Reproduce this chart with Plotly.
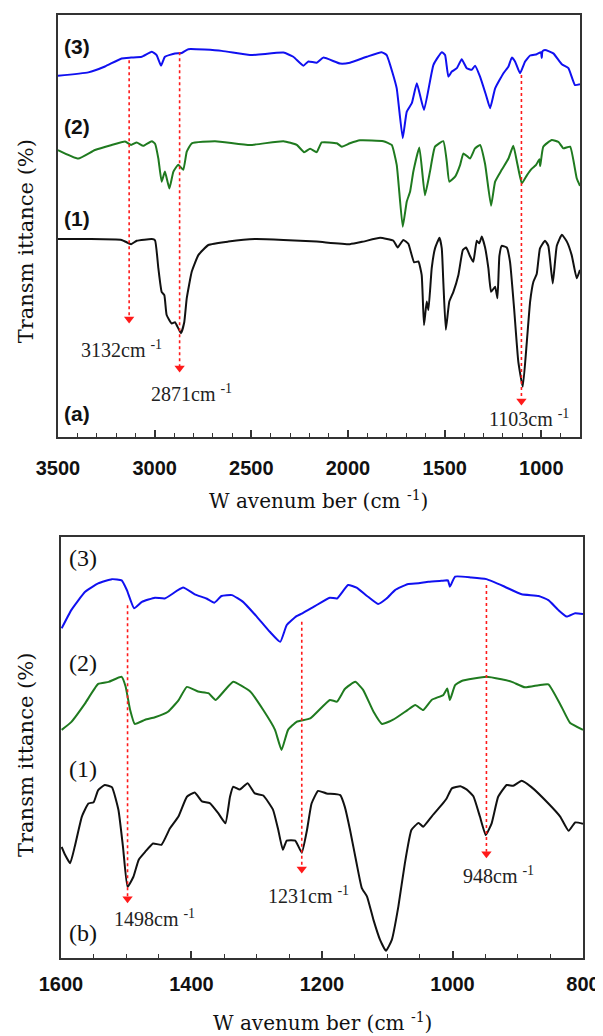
import plotly.graph_objects as go

# ---------------- Panel (a): full-range FTIR spectra ----------------
a3_wn = [3500, 3343, 3257, 3171, 3122, 3067, 3015, 2990, 2967, 2947, 2895, 2860, 2826, 2653, 2507,
         2334, 2283, 2231, 2205, 2162, 2128, 2041, 1990, 1903, 1826, 1800, 1769, 1748, 1717, 1696,
         1670, 1644, 1607, 1558, 1515, 1498, 1481, 1463, 1437, 1412, 1386, 1360, 1343, 1317, 1286,
         1265, 1239, 1196, 1170, 1153, 1136, 1110, 1084, 1058, 1024, 1002, 998, 994, 981, 938,
         894, 860, 826, 800]
a3_t = [85.6, 86.4, 87.8, 89.7, 89.9, 90.1, 91.3, 90.5, 88.0, 90.1, 90.9, 91.0, 91.9, 91.5, 90.5,
        91.1, 90.1, 88.0, 89.0, 88.7, 89.9, 88.5, 88.7, 90.1, 91.2, 90.5, 86.2, 82.6, 70.8, 77.1,
        79.1, 83.8, 77.5, 88.2, 91.2, 90.5, 85.4, 86.6, 87.4, 89.5, 87.4, 87.0, 88.0, 85.4, 81.0,
        77.9, 82.6, 86.2, 87.8, 89.9, 89.0, 86.2, 89.0, 90.4, 90.7, 91.2, 89.8, 91.4, 91.7, 90.9,
        88.3, 87.4, 83.4, 83.6]

a2_wn = [3500, 3395, 3309, 3222, 3153, 3122, 3093, 3059, 3015, 2998, 2981, 2964, 2947, 2924, 2903,
         2878, 2852, 2834, 2808, 2688, 2507, 2334, 2265, 2227, 2196, 2162, 2136, 2058, 2032, 1990,
         1938, 1817, 1774, 1748, 1717, 1696, 1679, 1662, 1631, 1602, 1576, 1550, 1507, 1489, 1476,
         1446, 1420, 1403, 1369, 1343, 1317, 1291, 1260, 1239, 1205, 1170, 1145, 1124, 1101, 1075,
         1049, 1027, 1010, 1006, 990, 946, 911, 886, 851, 817, 800]
a2_t = [68.0, 66.0, 68.0, 69.2, 70.0, 69.2, 69.8, 69.0, 70.1, 69.5, 66.0, 60.5, 62.9, 58.9, 62.9,
        64.5, 63.3, 67.6, 69.6, 70.1, 69.2, 70.1, 69.2, 67.5, 68.3, 67.5, 69.8, 69.6, 68.8, 69.6,
        70.3, 70.1, 69.2, 64.5, 49.8, 55.8, 58.1, 62.9, 68.6, 57.3, 62.9, 68.8, 70.1, 65.2, 60.5,
        61.7, 64.5, 67.2, 66.0, 68.4, 69.2, 64.7, 54.8, 60.5, 63.3, 66.0, 69.0, 64.7, 60.1, 62.0,
        63.6, 64.5, 65.8, 64.2, 68.8, 70.4, 69.9, 68.4, 68.8, 61.3, 59.5]

a1_wn = [3500, 3343, 3171, 3122, 3093, 3015, 2998, 2981, 2964, 2950, 2938, 2912, 2895, 2864, 2847,
         2834, 2808, 2774, 2722, 2619, 2481, 2334, 2162, 1990, 1921, 1834, 1765, 1743, 1714, 1688,
         1658, 1636, 1619, 1607, 1593, 1584, 1567, 1550, 1527, 1515, 1507, 1494, 1476, 1455, 1429,
         1406, 1389, 1369, 1352, 1334, 1321, 1308, 1291, 1274, 1260, 1239, 1227, 1217, 1205, 1179,
         1162, 1141, 1119, 1096, 1075, 1058, 1041, 1024, 1007, 981, 964, 941, 920, 894, 868, 843,
         817, 800]
a1_t = [46.9, 46.9, 46.7, 45.7, 46.5, 46.9, 46.6, 40.0, 34.4, 33.6, 28.9, 26.9, 27.2, 24.6, 27.2,
        32.9, 39.2, 43.1, 45.5, 46.3, 46.9, 46.7, 46.3, 45.7, 46.3, 47.2, 46.5, 44.9, 46.7, 45.8,
        41.4, 41.6, 38.4, 26.5, 32.1, 30.1, 40.0, 44.7, 47.2, 44.7, 36.8, 25.4, 32.1, 34.4, 38.4,
        44.3, 44.9, 42.9, 41.5, 46.5, 45.9, 47.5, 44.9, 40.0, 34.4, 35.6, 32.9, 42.9, 45.3, 44.9,
        41.5, 30.5, 17.8, 11.9, 22.6, 32.1, 36.8, 38.6, 44.7, 46.5, 45.3, 36.4, 45.3, 47.9, 46.3,
        43.1, 37.6, 39.6]

a_peaks = [3132, 2871, 1103]
a_peak_top = [89.3, 91.2, 85.8]
a_peak_tip = [27.0, 15.4, 7.6]
a_peak_labels = ["3132cm <sup>-1</sup>", "2871cm <sup>-1</sup>", "1103cm <sup>-1</sup>"]
a_label_pos = [(3174, 20.9), (2812, 10.4), (1064, 4.5)]

# ---------------- Panel (b): 1600-800 cm-1 region ----------------
b3_wn = [1599, 1584, 1563, 1543, 1522, 1507, 1499, 1488, 1476, 1456, 1441, 1413, 1395, 1377, 1365,
         1354, 1338, 1321, 1300, 1280, 1264, 1254, 1239, 1231, 1213, 1188, 1177, 1160, 1147, 1131,
         1114, 1101, 1088, 1069, 1052, 1037, 1017, 1007, 1004, 996, 971, 948, 920, 894, 868, 853,
         838, 825, 812, 800]
b3_t = [78.3, 82.7, 87.0, 89.0, 90.0, 89.7, 87.4, 83.1, 84.6, 85.6, 85.4, 88.0, 86.4, 85.4, 84.4,
        86.0, 86.2, 84.6, 81.1, 77.5, 75.1, 79.1, 81.2, 81.8, 83.4, 85.6, 85.4, 88.6, 88.0, 86.0,
        84.1, 85.4, 87.4, 88.8, 89.0, 89.4, 89.6, 89.7, 88.2, 90.6, 90.4, 90.0, 88.2, 86.4, 86.0, 85.0,
        82.7, 81.1, 81.9, 81.7]

b2_wn = [1599, 1584, 1563, 1543, 1527, 1507, 1501, 1494, 1487, 1471, 1456, 1436, 1420, 1407, 1390,
         1374, 1363, 1349, 1336, 1310, 1290, 1272, 1262, 1252, 1239, 1218, 1188, 1177, 1165, 1149,
         1137, 1121, 1108, 1091, 1069, 1057, 1045, 1032, 1014, 1008, 1004, 996, 986, 948, 925, 909,
         889, 868, 853, 833, 820, 800]
b2_t = [54.2, 56.1, 60.5, 65.1, 65.6, 66.8, 64.5, 58.9, 55.6, 56.6, 57.2, 58.5, 61.2, 64.4, 63.3,
        62.9, 61.3, 63.6, 65.6, 63.3, 58.9, 54.2, 49.4, 54.2, 56.1, 56.9, 61.3, 60.9, 63.9, 65.6,
        63.7, 58.5, 55.6, 56.6, 58.9, 60.1, 58.9, 61.3, 62.5, 64.0, 61.3, 64.8, 65.8, 66.8, 66.2, 65.6,
        64.3, 64.8, 65.0, 59.7, 55.9, 54.2]

b1_wn = [1599, 1594, 1586, 1579, 1568, 1558, 1550, 1543, 1533, 1522, 1512, 1505, 1498, 1489, 1481,
         1471, 1459, 1446, 1433, 1420, 1407, 1395, 1384, 1372, 1359, 1348, 1341, 1336, 1326, 1314,
         1303, 1290, 1275, 1267, 1260, 1254, 1241, 1231, 1223, 1216, 1206, 1193, 1172, 1165, 1157,
         1147, 1139, 1131, 1121, 1111, 1102, 1093, 1083, 1073, 1063, 1052, 1045, 1032, 1017, 1009,
         1001, 988, 978, 968, 958, 949, 940, 930, 917, 907, 894, 879, 853, 835, 822, 812, 800]
b1_t = [26.4, 24.6, 22.5, 26.4, 33.6, 36.7, 37.0, 39.9, 41.1, 40.6, 35.2, 26.4, 16.9, 19.3, 23.3,
        25.2, 27.2, 26.9, 30.8, 33.6, 38.3, 39.3, 37.2, 36.8, 34.4, 32.0, 38.3, 40.7, 40.0, 41.5,
        39.1, 38.6, 35.2, 30.4, 25.7, 27.9, 27.9, 25.0, 30.4, 36.7, 39.7, 39.1, 38.7, 35.9, 30.4,
        22.5, 16.6, 14.6, 9.0, 4.3, 1.7, 4.3, 12.2, 22.5, 30.4, 32.1, 31.2, 33.6, 36.3, 37.9,
        40.3, 40.8, 40.0, 38.4, 33.6, 29.2, 32.0, 38.3, 41.1, 40.9, 42.1, 40.6, 36.7, 33.6, 30.2,
        32.2, 31.9]

b_peaks = [1498, 1231, 948]
b_peak_top = [83.8, 79.9, 88.6]
b_peak_tip = [13.1, 20.2, 23.8]
b_peak_labels = ["1498cm <sup>-1</sup>", "1231cm <sup>-1</sup>", "948cm <sup>-1</sup>"]
b_label_pos = [(1457, 9.5), (1221, 15.0), (929, 19.7)]

BLUE = "#1010f0"
GREEN = "#1f7a1f"
BLACK = "#111111"
RED = "#ff1a1a"

fig = go.Figure()


def add_line(x, y, color, xa, ya):
    fig.add_trace(go.Scatter(x=x, y=y, mode="lines",
                             line=dict(color=color, width=2, shape="spline", smoothing=0.4),
                             xaxis=xa, yaxis=ya, showlegend=False, hoverinfo="skip"))


add_line(a3_wn, a3_t, BLUE, "x", "y")
add_line(a2_wn, a2_t, GREEN, "x", "y")
add_line(a1_wn, a1_t, BLACK, "x", "y")
add_line(b3_wn, b3_t, BLUE, "x2", "y2")
add_line(b2_wn, b2_t, GREEN, "x2", "y2")
add_line(b1_wn, b1_t, BLACK, "x2", "y2")


def add_markers(peaks, tops, tips, xa, ya, unit_px):
    for p, t0, t1 in zip(peaks, tops, tips):
        fig.add_trace(go.Scatter(x=[p, p], y=[t0, t1 + 6 / unit_px], mode="lines",
                                 line=dict(color=RED, width=1.6, dash="dot"),
                                 xaxis=xa, yaxis=ya, showlegend=False, hoverinfo="skip"))
    fig.add_trace(go.Scatter(x=peaks, y=[t + 4 / unit_px for t in tips], mode="markers",
                             marker=dict(symbol="triangle-down", size=9, color=RED, line=dict(width=0)),
                             xaxis=xa, yaxis=ya, showlegend=False, hoverinfo="skip"))


add_markers(a_peaks, a_peak_top, a_peak_tip, "x", "y", 4.22)
add_markers(b_peaks, b_peak_top, b_peak_tip, "x2", "y2", 4.21)

annotations = []
serif = "DejaVu Serif"
C = dict(xanchor="center", yanchor="middle", showarrow=False)
for lab, (x, y) in zip(a_peak_labels, a_label_pos):
    annotations.append(dict(x=x, y=y, xref="x", yref="y", text=lab, **C,
                            font=dict(family="Liberation Serif", size=20, color="#222")))
for lab, (x, y) in zip(b_peak_labels, b_label_pos):
    annotations.append(dict(x=x, y=y, xref="x2", yref="y2", text=lab, **C,
                            font=dict(family="Liberation Serif", size=20, color="#222")))

# curve labels
a_tags = [("(3)", 0.9265), ("(2)", 0.7346), ("(1)", 0.5166), ("(a)", 0.0545)]
for t, yy in a_tags:
    annotations.append(dict(x=0.036, y=yy, xref="x domain", yref="y domain", text=t, **C,
                            font=dict(family="Liberation Sans", size=21, color="#111", weight="bold")))
b_tags = [("(3)", 0.950), ("(2)", 0.7007), ("(1)", 0.449), ("(b)", 0.0594)]
for t, yy in b_tags:
    annotations.append(dict(x=0.042, y=yy, xref="x2 domain", yref="y2 domain", text=t, **C,
                            font=dict(family="Liberation Serif", size=24, color="#111")))

# axis titles
xt = "W avenum ber (cm <sup>-1</sup>)"
yt = "Transm ittance (%)"
annotations += [
    dict(x=0.497, y=0.4857, xref="paper", yref="paper", text=xt, **C,
         font=dict(family=serif, size=20, color="#111")),
    dict(x=0.503, y=-0.0679, xref="paper", yref="paper", text=xt, **C,
         font=dict(family=serif, size=20, color="#111")),
    dict(x=-0.061, y=0.760, xref="paper", yref="paper", text=yt, textangle=-90, **C,
         font=dict(family=serif, size=21, color="#111")),
    dict(x=-0.061, y=0.2153, xref="paper", yref="paper", text=yt, textangle=-90, **C,
         font=dict(family=serif, size=21, color="#111")),
]

tickfont = dict(family="Liberation Sans", size=20, color="#111", weight="bold")
common_x = dict(showline=True, linecolor="#333", linewidth=1.6, mirror=True, showgrid=False,
                zeroline=False, ticks="inside", ticklen=7, tickwidth=1.5, tickcolor="#333",
                tickfont=tickfont, automargin=False)
common_y = dict(showline=True, linecolor="#333", linewidth=1.6, mirror=True, showgrid=False,
                zeroline=False, ticks="", showticklabels=False, range=[0, 100], automargin=False)

# the page body adds an 8 px offset, so the figure is 8 px smaller than the window
fig.update_layout(
    width=595, height=1028,
    margin=dict(l=50, r=20, t=7, b=78, autoexpand=False),
    paper_bgcolor="white", plot_bgcolor="white",
    xaxis=dict(domain=[0, 0.9943], anchor="y", range=[3500, 800], tick0=0, dtick=500,
               minor=dict(dtick=100, ticks="inside", ticklen=4, tickwidth=1.2, tickcolor="#333"),
               ticklabelstandoff=12, **common_x),
    yaxis=dict(domain=[0.5525, 1], anchor="x", **common_y),
    xaxis2=dict(domain=[0.0057, 1], anchor="y2", range=[1600, 800], tick0=0, dtick=200,
                minor=dict(dtick=50, ticks="inside", ticklen=4, tickwidth=1.2, tickcolor="#333"),
                ticklabelstandoff=7, **common_x),
    yaxis2=dict(domain=[0, 0.4464], anchor="x2", **common_y),
    annotations=annotations,
)

fig.write_html("out.html")
